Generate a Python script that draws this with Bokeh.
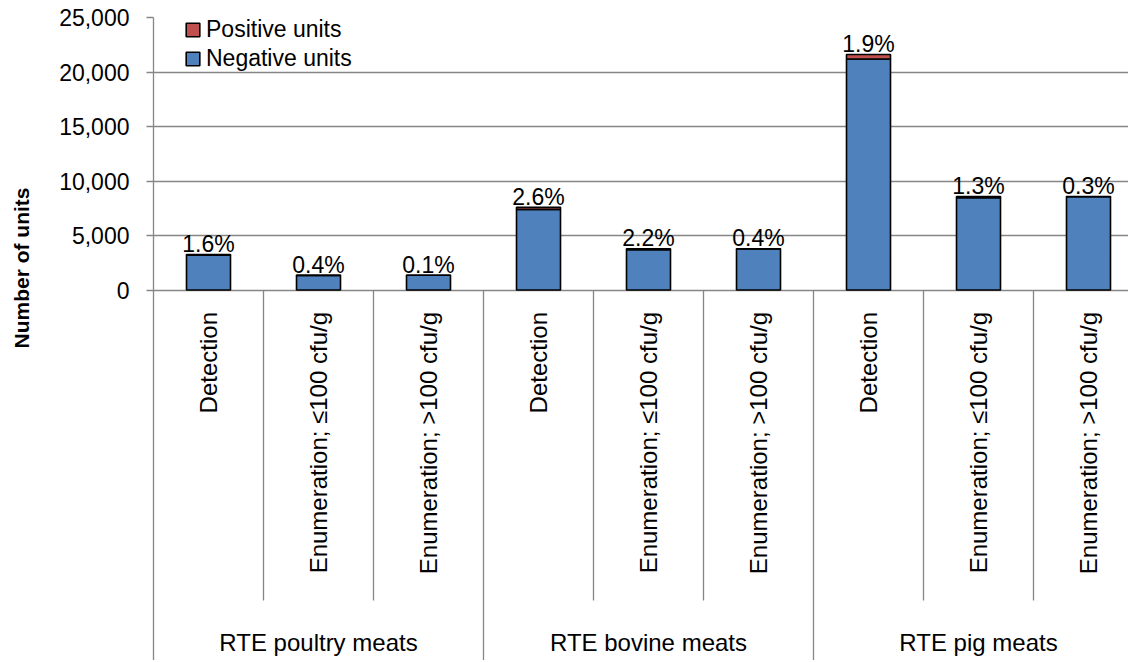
import math
from bokeh.plotting import figure
from bokeh.models import (ColumnDataSource, Range1d, FixedTicker, NumeralTickFormatter,
                          Legend, LegendItem, Title)
from bokeh.core.properties import value
from bokeh.embed import file_html
from bokeh.resources import INLINE

# ---- data ----
groups = ["RTE poultry meats", "RTE bovine meats", "RTE pig meats"]
methods = ["Detection", "Enumeration; \u2264100 cfu/g", "Enumeration; >100 cfu/g"]
negative_units = [3200, 1345, 1349, 7400, 3700, 3765, 21190, 8470, 8555]
positive_units = [52, 5, 1, 198, 83, 15, 410, 112, 26]
pct_labels = ["1.6%", "0.4%", "0.1%", "2.6%", "2.2%", "0.4%", "1.9%", "1.3%", "0.3%"]
y_ticks = [0, 5000, 10000, 15000, 20000, 25000]

FONT = "Liberation Sans"
GRID = "#868686"
BLUE = "#4F81BD"
RED = "#C0504D"

# ---- layout (pixels) ----
W, H = 1128, 660
LEFT, TOP = 153, 17
FRAME_W = W - LEFT
FRAME_H = H - TOP
ZERO_PX = 272.5                 # px from frame top to zero line
PX_PER_UNIT = ZERO_PX / 25000
Y_MIN = -(FRAME_H - ZERO_PX) / PX_PER_UNIT
CAT_PX = 110.0


def px(d):
    """distance below zero line in px -> data units"""
    return -d / PX_PER_UNIT


n = len(groups) * len(methods)
xs = [i + 0.5 for i in range(n)]
totals = [a + b for a, b in zip(negative_units, positive_units)]
label_y = [t + px(2.5) for t in totals]
src = ColumnDataSource(dict(x=xs, neg=negative_units, pos=positive_units,
                            ly=label_y, pct=pct_labels))

p = figure(width=W, height=H, output_backend="svg", toolbar_location=None,
           x_range=Range1d(0, FRAME_W / CAT_PX), y_range=Range1d(Y_MIN, 25000),
           x_axis_location=None, min_border_left=LEFT, min_border_top=TOP,
           min_border_bottom=0, min_border_right=0)
p.outline_line_color = None
p.xgrid.visible = False
p.background_fill_color = "white"
p.border_fill_color = "white"

yax = p.yaxis[0]
yax.ticker = FixedTicker(ticks=y_ticks)
yax.formatter = NumeralTickFormatter(format="0,0")
yax.major_label_text_font = FONT
yax.major_label_text_font_size = "23px"
yax.major_label_text_color = "black"
yax.axis_line_color = GRID
yax.axis_line_width = 1.3
yax.major_tick_line_color = GRID
yax.major_tick_line_width = 1.3
yax.major_tick_out = 7
yax.major_tick_in = 0
yax.minor_tick_line_color = None
yax.major_label_standoff = 17
# blank spacer label so that the axis title sits further out
yax.axis_label = " "
yax.axis_label_text_font_size = "10px"
yax.axis_label_standoff = 10

p.ygrid.ticker = FixedTicker(ticks=y_ticks)
p.ygrid.grid_line_color = GRID
p.ygrid.grid_line_width = 1.3

renderers = p.vbar_stack(["neg", "pos"], x="x", width=0.4, source=src,
                         color=[BLUE, RED], line_color="black", line_width=1.6)

# percent labels
p.text(x="x", y="ly", text="pct", source=src, text_align="center",
       text_baseline="bottom", text_font=value(FONT),
       text_font_size="23px", text_color="black")

# category label area
sub_src = ColumnDataSource(dict(x=xs, t=[m for g in groups for m in methods]))
p.text(x="x", y=px(22), text="t", source=sub_src, angle=math.pi / 2,
       text_align="right", text_baseline="middle", text_font=value(FONT),
       text_font_size="24px", text_color="black")

grp_src = ColumnDataSource(dict(x=[i * 3 + 1.5 for i in range(len(groups))], t=groups))
p.text(x="x", y=px(352.5), text="t", source=grp_src, text_align="center",
       text_baseline="middle", text_font=value(FONT), text_font_size="24px",
       text_color="black")

inner = [i for i in range(1, n) if i % 3 != 0]
outer = [i for i in range(3, n + 1, 3)]
p.segment(x0=inner, x1=inner, y0=[0] * len(inner), y1=[px(310.5)] * len(inner),
          line_color=GRID, line_width=1.3)
p.segment(x0=outer, x1=outer, y0=[0] * len(outer), y1=[Y_MIN] * len(outer),
          line_color=GRID, line_width=1.3)

legend = Legend(items=[LegendItem(label="Positive units", renderers=[renderers[1]]),
                       LegendItem(label="Negative units", renderers=[renderers[0]])],
                location=(31, FRAME_H - 72.3 + TOP), padding=0, margin=0, spacing=2,
                glyph_width=17, glyph_height=17, label_height=17, label_standoff=5,
                label_text_font=FONT, label_text_font_size="23px",
                label_text_color="black",
                border_line_color=None, background_fill_alpha=0)
p.add_layout(legend)

ytitle = Title(text="Number of units", align="right", offset=170, standoff=0,
               vertical_align="bottom",
               text_font=FONT, text_font_size="21px", text_font_style="bold",
               text_color="black")
p.add_layout(ytitle, "left")

open("out.html", "w").write(file_html(p, INLINE))
